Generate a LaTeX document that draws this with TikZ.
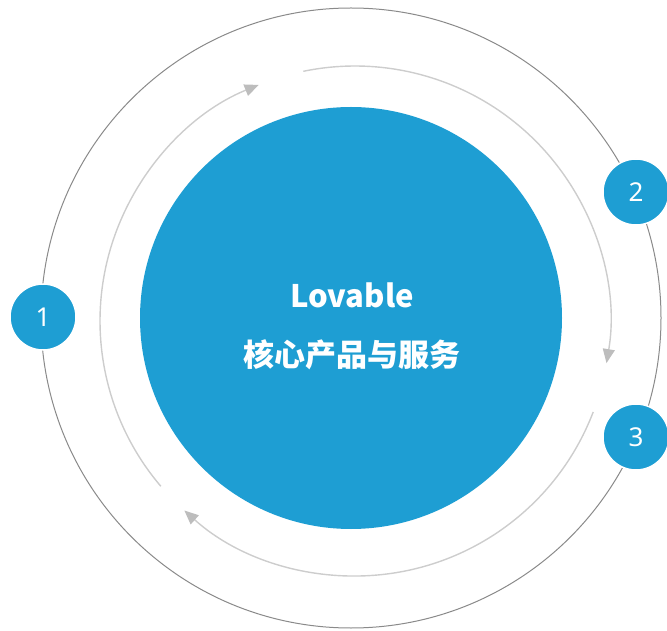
\documentclass[tikz,border=0pt]{standalone}
\usepackage{fontspec}
\setmainfont{Noto Sans}
\newfontfamily\cjk{Noto Sans CJK SC}
\usetikzlibrary{arrows.meta}
\definecolor{lblue}{HTML}{1E9ED3}
\definecolor{ringgray}{HTML}{8A8A8A}
\definecolor{arcgray}{HTML}{CDCDCD}
\definecolor{tipgray}{HTML}{BDBDBD}
\tikzset{
  numdot/.style={circle, fill=lblue, draw=white, line width=1.5pt, minimum size=66pt, inner sep=0pt, text=white, font=\fontsize{26}{30}\selectfont},
  flowarc/.style={draw=arcgray, line width=1.4pt, -{Triangle[length=14pt,width=12pt,fill=tipgray,color=tipgray]}},
  coredisc/.style={circle, fill=lblue, minimum size=422pt, inner sep=0pt}
}
\begin{document}
\begin{tikzpicture}[x=1pt,y=1pt]
\useasboundingbox (0,0) rectangle (667,630);
\coordinate (c) at (351,312);
\coordinate (ci) at (355,309);
% outer ring
\draw[ringgray, line width=1pt] (c) circle[radius=310];
% core disc
\node[coredisc] (core) at (c) {};
% flow arcs
\draw[flowarc] (ci) ++(220.4:255) arc[start angle=220.4, end angle=112.2, radius=255];
\draw[flowarc] (ci) ++(101.7:255) arc[start angle=101.7, end angle=-9.5, radius=255];
\draw[flowarc] (ci) ++(-20.9:255) arc[start angle=-20.9, end angle=-132, radius=255];
% texts
\node[anchor=base, text=white, font=\cjk\bfseries\fontsize{31}{36}\selectfont] (title) at (352,322) {Lovable};
\node[anchor=base, text=white, font=\cjk\bfseries\fontsize{31}{36}\selectfont] (sub) at (352,263) {核心产品与服务};
% numbered dots
\node[numdot] (n1) at (43,313) {1};
\node[numdot] (n2) at (636,438) {2};
\node[numdot] (n3) at (636,193) {3};
\end{tikzpicture}
\end{document}
